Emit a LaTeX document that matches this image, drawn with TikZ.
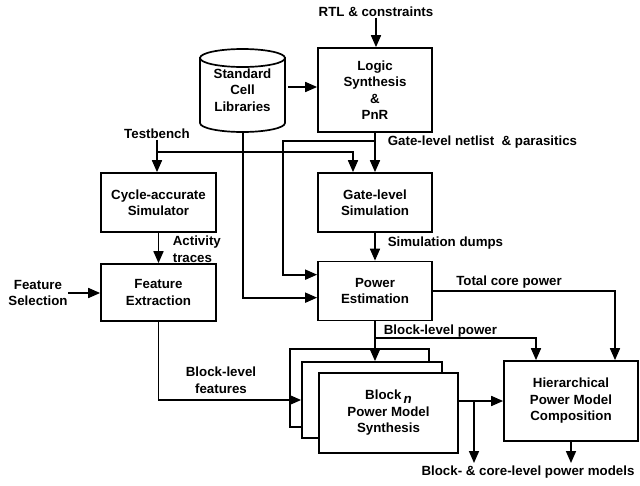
\documentclass[tikz,border=0pt]{standalone}
\usepackage{fontspec}
\setmainfont{Liberation Sans}
\usetikzlibrary{arrows.meta,calc}
\newcommand{\lbl}{\fontsize{13.3}{16.5}\selectfont\bfseries}
\begin{document}
\begin{tikzpicture}[x=1pt,y=-1pt,
  line width=1.7pt,
  >={Triangle[length=12pt,width=10pt]},
  box/.style={draw, fill=white, line width=1.7pt, align=center, font=\lbl, inner sep=0pt},
  lab/.style={font=\lbl, align=left, inner sep=0pt},
  clab/.style={font=\lbl, align=center, inner sep=0pt},
]
\useasboundingbox (0,0) rectangle (640,485);

% ---- boxes ----
\node[box, minimum width=114, minimum height=84] (logic) at (375,90)
  {Logic\\Synthesis\\\&\\PnR};
\node[box, minimum width=114, minimum height=59] (gate) at (375,202.5)
  {Gate-level\\Simulation};
\node[box, minimum width=114, minimum height=59] (power) at (375,291)
  {Power\\Estimation};
\node[box, minimum width=115, minimum height=59] (cycle) at (158.5,202.5)
  {Cycle-accurate\\Simulator};
\node[box, minimum width=115, minimum height=57] (feat) at (158.5,292.5)
  {Feature\\Extraction};
\node[box, minimum width=134, minimum height=80] (hier) at (571,401)
  {Hierarchical\\Power Model\\Composition};

% stacked block model boxes
\node[box, minimum width=139, minimum height=78] (back) at (359.5,388) {};
\node[box, minimum width=140, minimum height=76] (mid) at (372,400) {};
\node[box, minimum width=139, minimum height=80] (front) at (388.5,413)
  {Block\,\raisebox{-4pt}{\textit{n}}\\Power Model\\Synthesis};

% ---- cell library cylinder ----
\node[minimum width=85, minimum height=82, inner sep=0pt] (lib) at (242.5,91) {};
\draw[fill=white] (200,58) -- (200,123) arc[start angle=180, end angle=0, x radius=42.5, y radius=9]
  -- (285,58) -- cycle;
\draw[fill=white] (242.5,58) ellipse[x radius=42.5, y radius=9];
\node[clab] at (242.5,90) {Standard\\Cell\\Libraries};

% ---- labels ----
\node[clab] (rtl) at (376,12) {RTL \& constraints};
\node[clab] (tb) at (157,134) {Testbench};
\node[clab] (fsel) at (38,293) {Feature\\Selection};
\node[lab, anchor=west] (glnet) at (387,142) {Gate-level netlist \ \& parasitics};
\node[lab, anchor=west] (act) at (172,249) {Activity\\traces};
\node[lab, anchor=west] (simd) at (387,243) {Simulation dumps};
\node[clab] (tcp) at (509,282) {Total core power};
\node[lab, anchor=west] (blp) at (383,331) {Block-level power};
\node[clab] (blf) at (221,380) {Block-level\\features};
\node[clab] (outm) at (528,472) {Block- \& core-level power models};

% ---- junctions and free ends ----
\coordinate (gj) at (375,141);
\coordinate (tj) at (158,152);
\coordinate (bj) at (375,338);
\coordinate (fj) at (474,401);
\coordinate (o1) at (474,463);
\coordinate (o2) at (571,463);

% ---- connectors ----
\draw[->] (rtl.south) -- (rtl.south |- logic.north);
\draw[->, shorten <=2pt] (lib.east |- 0,87) -- (logic.west |- 0,87);
\draw[->] (logic.south) -- (gate.north);
\draw[->] (gj) -- (283,141) |- ([yshift=-14pt]power.north west);
\draw[->] (tb.south) -- (tb.south |- cycle.north);
\draw[->] (tj) -| ([xshift=-22pt]gate.north);
\draw[->] (243,132) |- ([yshift=-37pt]power.north west);
\draw[->] (cycle.south) -- (feat.north);
\draw[->] (gate.south) -- (power.north);
\draw[->] (fsel.east |- 0,293) -- (feat.west |- 0,293);
\draw[->] (feat.south) |- (mid.west);
\draw[->] (power.east) -| ([xshift=44pt]hier.north);
\draw[->] (power.south) -- (power.south |- mid.north);
\draw[->] (bj) -| ([xshift=-35pt]hier.north);
\draw[->] (front.east |- hier.west) -- (hier.west);
\draw[->] (fj) -- (o1);
\draw[->] (hier.south -| o2) -- (o2);
\end{tikzpicture}
\end{document}
